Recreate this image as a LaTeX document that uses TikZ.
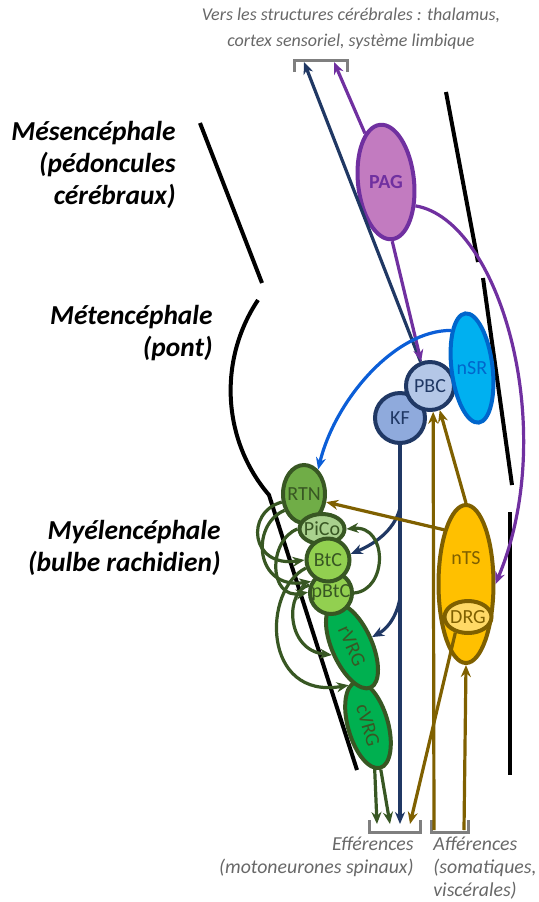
\documentclass[tikz,border=0pt]{standalone}
\usepackage{fontspec}
\setmainfont{Carlito}
\usetikzlibrary{shapes.geometric,backgrounds,arrows.meta}

\definecolor{pagfill}{HTML}{C27BC0}
\definecolor{purp}{HTML}{7030A0}
\definecolor{navy}{HTML}{203864}
\definecolor{pbcfill}{HTML}{B4C7E7}
\definecolor{kffill}{HTML}{8FAADC}
\definecolor{nsrfill}{HTML}{00B0F0}
\definecolor{nsrline}{HTML}{0066CC}
\definecolor{bluearc}{HTML}{0B5ED7}
\definecolor{leaf}{HTML}{385723}
\definecolor{rtnfill}{HTML}{70AD47}
\definecolor{picofill}{HTML}{A9D18E}
\definecolor{btcfill}{HTML}{92D050}
\definecolor{vrgfill}{HTML}{00B050}
\definecolor{ntsfill}{HTML}{FFC000}
\definecolor{drgfill}{HTML}{FFD966}
\definecolor{ochre}{HTML}{7F6000}
\definecolor{notegray}{HTML}{7F7F7F}
\definecolor{notetext}{HTML}{686868}

\begin{document}
\begin{tikzpicture}[x=0.5pt,y=-0.5pt,
  nucleus/.style={draw,line width=2pt,inner sep=0pt,
                  font=\fontsize{10}{11}\selectfont},
  every label/.style={font=\fontsize{10}{11}\selectfont,inner sep=0pt},
  oval/.style={nucleus,ellipse},
  ball/.style={nucleus,circle},
  axon/.style={->,>={Stealth[length=6pt,width=5pt]},line width=1.6pt},
  boundary/.style={line width=2pt},
  region/.style={font=\fontsize{13.7}{16}\selectfont\bfseries\itshape,
                 align=right,anchor=east,inner sep=0pt},
  sidenote/.style={inner sep=0pt,text=notetext},
  bracket/.style={draw=notegray,line width=1.5pt}]
\useasboundingbox (0,0) rectangle (539,902);

% regions of the brainstem
\node[region] (mes) at (176,165) {Mésencéphale\\(pédoncules\\cérébraux)};
\node[region] (met) at (213,333) {Métencéphale\\(pont)};
\node[region] (mye) at (221,548) {Myélencéphale\\(bulbe rachidien)};
\draw[boundary] (200,123) -- (262,283);
\draw[boundary] (258,300) .. controls (218,360) and (222,440) .. (269,495) -- (357,770);
\draw[boundary] (446,92) -- (478,262);
\draw[boundary] (483,278) -- (512,485);
\draw[boundary] (510,512) -- (510,775);

% nuclei
\node[oval,fill=pagfill,draw=purp,minimum width=28pt,minimum height=57.5pt,rotate=6,
  label={[text=purp,font=\fontsize{10}{11}\selectfont\bfseries]center:PAG}] (PAG) at (386,182) {};
\node[ball,fill=kffill,draw=navy,minimum size=25pt,
  label={[text=navy]center:KF}] (KF) at (400,418) {};
\node[ball,fill=pbcfill,draw=navy,minimum size=24pt,
  label={[text=navy]center:PBC}] (PBC) at (430,386) {};
\node[oval,fill=nsrfill,draw=nsrline,minimum width=20.5pt,minimum height=55pt,rotate=7,
  label={[text=nsrline]center:nSR}] (nSR) at (472,368) {};
\node[oval,fill=vrgfill,draw=leaf,text=leaf,minimum width=44.5pt,minimum height=20pt,
  rotate=-74] (cVRG) at (368,725) {cVRG};
\node[oval,fill=vrgfill,draw=leaf,text=leaf,minimum width=45.5pt,minimum height=20pt,
  rotate=-66] (rVRG) at (352,646) {rVRG};
\node[ball,fill=btcfill,draw=leaf,minimum size=21pt,
  label={[text=leaf]center:pBtC}] (pBtC) at (331,593) {};
\node[oval,fill=rtnfill,draw=leaf,minimum width=21pt,minimum height=29pt,
  label={[text=leaf]center:RTN}] (RTN) at (304,494) {};
\node[oval,fill=picofill,draw=leaf,minimum width=22.5pt,minimum height=15pt,
  label={[text=leaf]center:PiCo}] (PiCo) at (322,529) {};
\node[ball,fill=btcfill,draw=leaf,minimum size=21.5pt,
  label={[text=leaf]center:BtC}] (BtC) at (328,560) {};
\node[oval,fill=ntsfill,draw=ochre,minimum width=27.5pt,minimum height=79pt,
  label={[text=ochre,yshift=13pt]center:nTS}] (nTS) at (466,584) {};
\node[oval,fill=drgfill,draw=ochre,minimum width=23.5pt,minimum height=16pt,
  label={[text=ochre]center:DRG}] (DRG) at (468,617) {};

% ends of the pathways
\coordinate (up1) at (304,62);
\coordinate (up2) at (334,62);
\coordinate (eff1) at (377,824);
\coordinate (eff2) at (390,824);
\coordinate (eff3) at (400,824);
\coordinate (eff4) at (410,824);
\coordinate (aff1) at (434,830);
\coordinate (aff2) at (464,830);
\draw[bracket] (294,72) -- (294,60) -- (347,60) -- (347,72);
\draw[bracket] (369,820) -- (369,832) -- (420,832) -- (420,820);
\draw[bracket] (431,820) -- (431,832) -- (468,832) -- (468,820);
\node[sidenote,align=center,font=\fontsize{9}{13}\selectfont\itshape] (dest) at (351,29)
  {Vers les structures cérébrales : thalamus,\\cortex sensoriel, système limbique};
\node[sidenote,align=right,anchor=east,font=\fontsize{9.9}{11.5}\selectfont\itshape] (effnote) at (414,857)
  {Efférences\\(motoneurones spinaux)};
\node[sidenote,align=left,anchor=west,font=\fontsize{9.9}{11.5}\selectfont\itshape] (affnote) at (433,868)
  {Afférences\\(somatiques,\\viscérales)};

% pathways
\draw[axon,navy] (PBC) -- (up1);
\draw[axon,purp] (PAG) -- (up2);
\draw[axon,purp] (PAG.south) -- (PBC.110);
\draw[axon,purp] (PAG.-45) .. controls (500,220) and (560,430) .. (nTS.east);
\draw[axon,bluearc] (nSR.112) .. controls (395,330) and (335,400) .. (RTN.60);
\draw[axon,navy] (KF) -- (eff3);
\draw[axon,navy] (400,508) .. controls (394,532) and (372,545) .. (BtC.15);
\draw[axon,navy] (400,598) .. controls (396,620) and (385,630) .. (rVRG.north);
\draw[axon,ochre] (aff1) -- (PBC.-83);
\draw[axon,ochre] (nTS.north) -- (PBC.-68);
\draw[axon,ochre] (aff2) -- (nTS.south);
\draw[axon,ochre] (nTS.112) -- (RTN.-20);
\draw[axon,ochre] (DRG.-129) -- (eff4);
\begin{scope}[on background layer]
  \draw[axon,leaf] (rVRG.east) -- (eff1);
\end{scope}
\draw[axon,leaf] (cVRG.east) -- (eff2);
% loops between the respiratory groups
\draw[axon,leaf] (RTN.200) .. controls (245,512) and (250,568) .. (BtC.west);
\draw[axon,leaf] (RTN.220) .. controls (250,525) and (255,590) .. (pBtC.150);
\draw[axon,leaf] (PiCo.west) .. controls (268,540) and (268,600) .. (pBtC.178);
\draw[axon,leaf] (pBtC.160) .. controls (285,590) and (285,650) .. (rVRG.south);
\draw[axon,leaf] (BtC.200) .. controls (262,590) and (262,700) .. (cVRG.190);
\draw[axon,leaf] (pBtC.east) .. controls (388,590) and (388,525) .. (PiCo.east);
\end{tikzpicture}
\end{document}
